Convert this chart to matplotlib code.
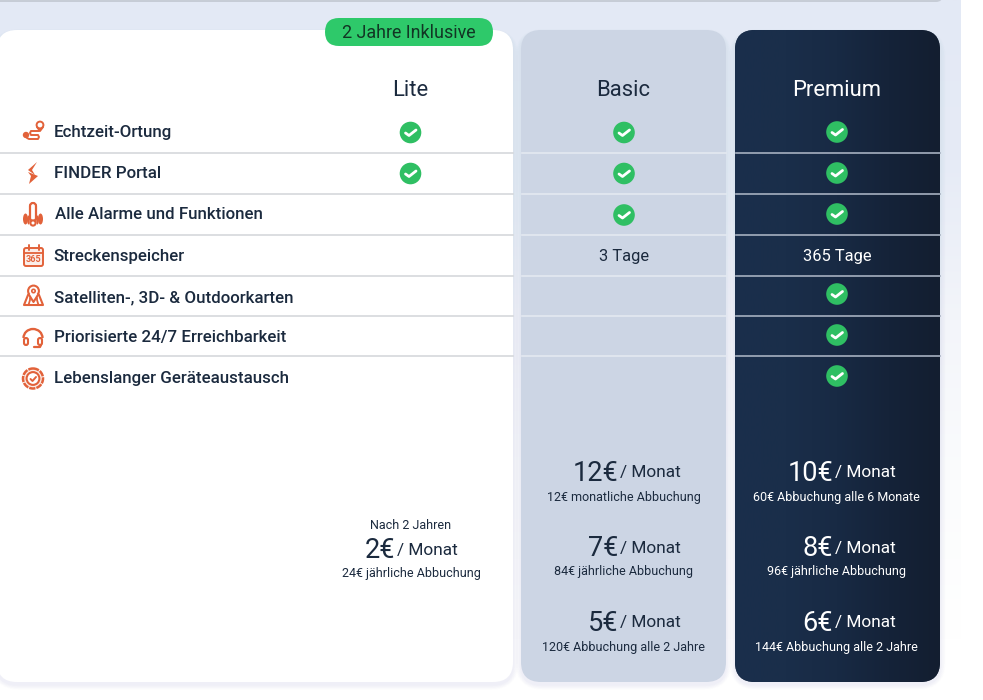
import matplotlib
matplotlib.use("Agg")
import matplotlib.pyplot as plt
from matplotlib.patches import FancyBboxPatch, Circle, Polygon, Arc, Ellipse
from matplotlib.colors import LinearSegmentedColormap
import numpy as np

plt.rcParams['font.family'] = ['Roboto', 'DejaVu Sans']

features = ["Echtzeit-Ortung", "FINDER Portal", "Alle Alarme und Funktionen", "Streckenspeicher",
            "Satelliten-, 3D- & Outdoorkarten", "Priorisierte 24/7 Erreichbarkeit", "Lebenslanger Geräteaustausch"]
plans = ["Lite", "Basic", "Premium"]
lite_vals = ["check", "check", "", "", "", "", ""]
basic_vals = ["check", "check", "check", "3 Tage", "", "", ""]
premium_vals = ["check", "check", "check", "365 Tage", "check", "check", "check"]
badge_text = "2 Jahre Inklusive"
lite_note = "Nach 2 Jahren"
lite_price = ["2€"]
lite_billing = ["24€ jährliche Abbuchung"]
basic_price = ["12€", "7€", "5€"]
basic_billing = ["12€ monatliche Abbuchung", "84€ jährliche Abbuchung", "120€ Abbuchung alle 2 Jahre"]
premium_price = ["10€", "8€", "6€"]
premium_billing = ["60€ Abbuchung alle 6 Monate", "96€ jährliche Abbuchung", "144€ Abbuchung alle 2 Jahre"]
per_month = "/ Monat"

row_y = [132, 173, 214, 256, 297, 337, 378]
lite_y = [132.5, 173.5, 214, 256, 297, 337, 378]
basic_y = [132.5, 173.5, 215, 256, 297, 337, 378]
premium_y = [132, 173, 214, 256, 294, 335, 376]
sep_y = [152.5, 193.5, 234.5, 275.5, 315.5, 355.5]
text_x = [54, 54, 55, 53.5, 54.5, 54, 54]
DARK = "#1b2a3e"
ORANGE = "#e2623a"
GREEN = "#2fbf63"

fig = plt.figure(figsize=(9.83, 7.0), dpi=100)
ax = fig.add_axes([0, 0, 1, 1])
ax.set_xlim(0, 983)
ax.set_ylim(700, 0)
ax.axis("off")

# background fades out towards the bottom
bg = LinearSegmentedColormap.from_list("bg", ["#e3e9f5", "#e6ebf6", "#f3f5fa", "#fbfcfd", "#ffffff"])
ax.imshow(np.linspace(0, 1, 256).reshape(-1, 1), cmap=bg, extent=[0, 961, 640, 0], aspect="auto", zorder=0)
ax.set_xlim(0, 983)
ax.set_ylim(700, 0)


def card(x0, y0, x1, y1, color, z=2, r=20):
    for i in range(8, 0, -1):
        ax.add_patch(FancyBboxPatch((x0 - i * 0.7, y0 + 3 - i * 0.5), x1 - x0 + i * 1.4, y1 - y0 + i * 1.1,
                                    boxstyle="round,pad=0,rounding_size=%d" % (r + i), fc="#8896ad", ec="none",
                                    alpha=0.012, zorder=z - 1))
    p = FancyBboxPatch((x0, y0), x1 - x0, y1 - y0, boxstyle="round,pad=0,rounding_size=%d" % r,
                       fc=color, ec="none", zorder=z)
    ax.add_patch(p)
    return p


# top card edge
ax.add_patch(FancyBboxPatch((-10, -20), 952, 21, boxstyle="round,pad=0,rounding_size=6", fc="#eef1f7", ec="#c6ccd6", lw=1.4, zorder=1))

card(-3, 30, 513, 682, "#ffffff")
card(521, 30, 726, 682, "#ccd5e4")
prem = card(735, 30, 940, 682, "#16263d")
grad = LinearSegmentedColormap.from_list("prem", ["#1a2f4c", "#1a2e4a", "#182a44", "#152339", "#131e30"])
im = ax.imshow(np.linspace(0, 1, 256).reshape(1, -1), cmap=grad, extent=[735, 940, 682, 30], aspect="auto", zorder=2.5)
im.set_clip_path(prem)
ax.set_xlim(0, 983)
ax.set_ylim(700, 0)

# separators
for y in sep_y:
    ax.plot([0, 513], [y, y], color="#d5d8dc", lw=1.2, zorder=3)
    ax.plot([522, 726], [y, y], color="#e4e9f1", lw=1.2, zorder=3)
    ax.plot([736, 940], [y, y], color="#a6b0c0", lw=1.2, zorder=3)

# badge
ax.add_patch(FancyBboxPatch((325, 18), 168, 28, boxstyle="round,pad=0,rounding_size=14", fc="#2ec96a", ec="none", zorder=4))
ax.text(408.5, 33, badge_text, ha="center", va="center", fontsize=12.9, color="#123524", zorder=5)


def check(cx, cy):
    ax.add_patch(Circle((cx, cy), 10.8, fc=GREEN, ec="none", zorder=5))
    ax.plot([cx - 5, cx - 1.5, cx + 5.5], [cy + 0.5, cy + 3, cy - 2.5], color="white", lw=2,
            solid_capstyle="round", solid_joinstyle="round", zorder=6)


col_x = [410.5, 624, 837]
col_color = [DARK, DARK, "#ffffff"]
col_y = [lite_y, basic_y, premium_y]
for x, name, vals, ys, color in zip(col_x, plans, [lite_vals, basic_vals, premium_vals], col_y, col_color):
    ax.text(x - 0.5, 90, name, ha="center", va="center", fontsize=15.8, color=color, zorder=5)
    for y, v in zip(ys, vals):
        if v == "check":
            check(x, y)
        elif v:
            ax.text(x, y + 1, v, ha="center", va="center", fontsize=11.9, color=color, zorder=5)

for x, y, f in zip(text_x, row_y, features):
    ax.text(x, y + 0.5, f, ha="left", va="center", fontsize=12.15, fontweight="medium", color=DARK, zorder=5)


# icons
def line(xs, ys, lw=1.6, z=5):
    ax.plot(xs, ys, color=ORANGE, lw=lw, zorder=z, solid_capstyle="round", solid_joinstyle="round")


def ic_route(y):
    ax.add_patch(Circle((26, y + 3), 3.2, fc=ORANGE, ec="none", zorder=5))
    ax.add_patch(Circle((40, y - 7), 3.4, fc="white", ec=ORANGE, lw=1.4, zorder=6))
    line([37, 40, 43], [y - 5, y - 1, y - 5], 1.4)
    line([27, 29, 38, 39, 38, 31, 30, 31, 39, 40], [y + 6, y + 7, y + 7, y + 5, y + 3, y + 3, y + 1, y - 1, y - 1, y - 2], 1.4)


def ic_finder(y):
    ax.add_patch(Polygon([[37, y - 11], [28, y - 3], [35, y + 2], [32, y - 3]], fc=ORANGE, ec="none", zorder=5))
    ax.add_patch(Polygon([[28, y - 1], [38, y + 3], [29, y + 11], [31, y + 3]], fc=ORANGE, ec="none", zorder=5))


def ic_alarm(y):
    ax.add_patch(FancyBboxPatch((30, y - 11), 6, 18, boxstyle="round,pad=0,rounding_size=3", fc="white", ec=ORANGE, lw=1.6, zorder=5))
    ax.add_patch(Circle((33, y + 9), 2.6, fc="white", ec=ORANGE, lw=1.5, zorder=5))
    ax.add_patch(Ellipse((25.5, y + 5), 5, 11, fc=ORANGE, ec="none", zorder=5))
    ax.add_patch(Ellipse((40.5, y + 5), 5, 11, fc=ORANGE, ec="none", zorder=5))
    ax.add_patch(Ellipse((28.5, y + 6), 2.6, 9, fc=ORANGE, ec="none", zorder=5))
    ax.add_patch(Ellipse((37.5, y + 6), 2.6, 9, fc=ORANGE, ec="none", zorder=5))


def ic_calendar(y):
    ax.add_patch(FancyBboxPatch((24, y - 8), 19, 18, boxstyle="round,pad=0,rounding_size=2", fc="#fbeee9", ec=ORANGE, lw=1.4, zorder=5))
    line([24, 43], [y - 3.5, y - 3.5], 1.3, 6)
    line([28.5, 28.5], [y - 11, y - 6], 1.4, 6)
    line([38.5, 38.5], [y - 11, y - 6], 1.4, 6)
    ax.text(33.5, y + 3.5, "365", ha="center", va="center", fontsize=6.5, fontweight="bold", color=ORANGE, zorder=7)


def ic_map(y):
    ax.add_patch(Polygon([[28, y - 2], [24, y + 8], [43, y + 8], [39, y - 2]], fc="white", ec=ORANGE, lw=1.5, joinstyle="round", zorder=5))
    ax.add_patch(Circle((33.5, y - 6), 5.4, fc="white", ec=ORANGE, lw=1.5, zorder=6))
    ax.add_patch(Circle((33.5, y - 6), 1.7, fc="white", ec=ORANGE, lw=1.2, zorder=7))
    ax.add_patch(Polygon([[29, y - 3], [33.5, y + 4], [38, y - 3]], fc="white", ec="none", zorder=7))
    line([28.5, 33.5, 38.5], [y - 3, y + 5, y - 3], 1.5, 8)
    line([28.5, 30, 30], [y + 8, y + 3, y + 1], 1.3, 6)
    line([38.5, 37, 37], [y + 8, y + 3, y + 1], 1.3, 6)


def ic_headset(y):
    ax.add_patch(Arc((33, y + 1), 19, 18, theta1=180, theta2=360, ec=ORANGE, lw=1.7, zorder=5))
    ax.add_patch(FancyBboxPatch((24, y + 1), 4, 7, boxstyle="round,pad=0,rounding_size=2", fc="white", ec=ORANGE, lw=1.5, zorder=5))
    ax.add_patch(FancyBboxPatch((38, y + 1), 4, 7, boxstyle="round,pad=0,rounding_size=2", fc="white", ec=ORANGE, lw=1.5, zorder=5))
    line([34, 40, 41], [y + 10, y + 10, y + 8])


def ic_seal(y):
    ax.add_patch(Circle((33, y + 0.5), 10, fc="#fbeee9", ec=ORANGE, lw=1.8, ls=(0, (2.5, 0.4)), zorder=5))
    ax.add_patch(Circle((33, y + 0.5), 6.4, fc="white", ec=ORANGE, lw=1.5, zorder=5))
    line([30.5, 32.5, 36], [y + 1, y + 3, y - 1], 1.4, 6)


icons = [ic_route, ic_finder, ic_alarm, ic_calendar, ic_map, ic_headset, ic_seal]
for fn, y in zip(icons, row_y):
    fn(y)

# prices
price_y = [472, 547, 622]


def price(x_right, y, amount, billing, bill_x, bill_y, color):
    ax.text(x_right, y + 1.5, amount, ha="right", va="center", fontsize=19.5, color=color, zorder=5)
    ax.text(x_right + 2, y + 1, per_month, ha="left", va="center", fontsize=12.4, color=color, zorder=5)
    ax.text(bill_x, bill_y, billing, ha="center", va="center", fontsize=9.0, color=color, zorder=5)


ax.text(410.5, 525.5, lite_note, ha="center", va="center", fontsize=9.0, color=DARK, zorder=5)
price(395, 549, lite_price[0], lite_billing[0], 411, 574, DARK)
for y, a, b in zip(price_y, basic_price, basic_billing):
    price(618, y, a, b, 623.5, y + 25, DARK)
for y, a, b in zip(price_y, premium_price, premium_billing):
    price(833, y, a, b, 836.5, y + 25, "#ffffff")

fig.savefig("out.png", dpi=100)
